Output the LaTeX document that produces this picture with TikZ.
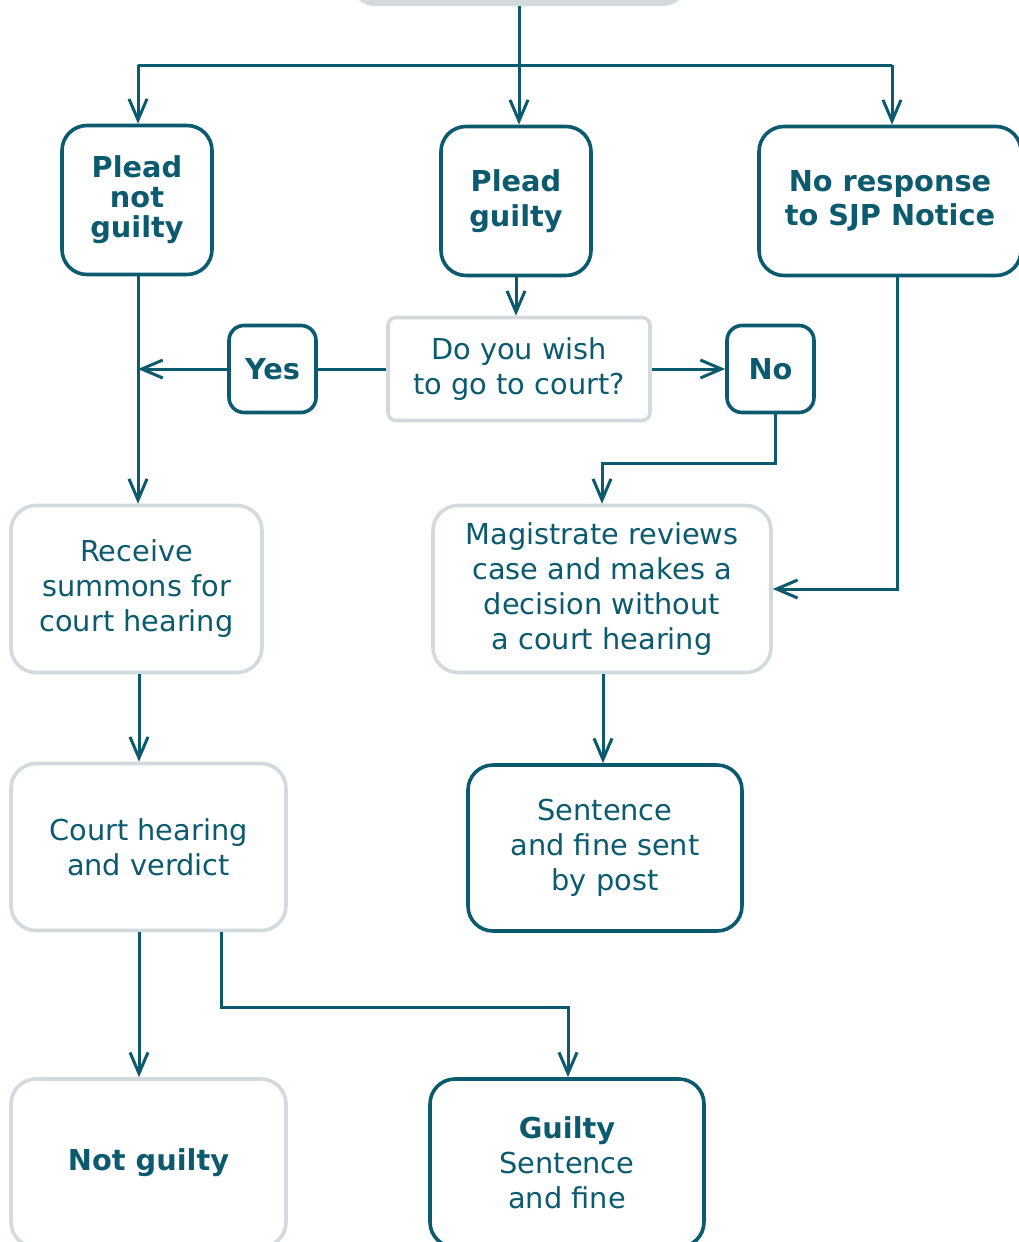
\documentclass[tikz,border=0pt]{standalone}
\usepackage{fontspec}
\setmainfont{DejaVu Sans}
\usetikzlibrary{arrows.meta,calc}
\definecolor{teal}{HTML}{0B5A6E}
\definecolor{lgray}{HTML}{D3DADE}
\tikzset{
  base/.style={align=center, text=teal, font=\fontsize{28.8}{35}\selectfont, inner sep=0pt},
  darkbox/.style={base, draw=teal, line width=3.6pt, rounded corners=25pt},
  graybox/.style={base, draw=lgray, line width=3.6pt, rounded corners=25pt},
  boldtext/.style={font=\fontsize{28.8}{35}\selectfont\bfseries},
  arr/.style={draw=teal, line width=3pt, -{Straight Barb[length=21pt,width=18pt,line width=3pt]}},
  ln/.style={draw=teal, line width=3pt},
}
\begin{document}
\begin{tikzpicture}[x=1pt,y=-1pt]
\useasboundingbox (0,0) rectangle (1018,1242);
\node[fill=lgray, rounded corners=25pt, minimum width=338pt, minimum height=90pt, inner sep=0pt] (top) at (519,-39) {};

\node[darkbox, minimum width=150pt, minimum height=149pt, font=\fontsize{28.8}{30}\selectfont\bfseries] (pnl) at (137,200) {Plead\\not\\guilty};
\node[darkbox, boldtext, minimum width=150pt, minimum height=149pt] (pg) at (516,201) {Plead\\guilty};
\node[darkbox, minimum width=262pt, minimum height=149pt, font=\fontsize{28.8}{34}\selectfont\bfseries] (nr) at (890,201) {No response\\to SJP Notice};

\node[graybox, rounded corners=8pt, minimum width=262pt, minimum height=103pt] (q) at (519,369) {Do you wish\\to go to court?};
\node[darkbox, boldtext, rounded corners=15pt, minimum width=87pt, minimum height=87pt] (yes) at (272.5,369) {Yes};
\node[darkbox, boldtext, rounded corners=15pt, minimum width=87pt, minimum height=87pt] (no) at (770.5,369) {No};

\node[graybox, minimum width=251pt, minimum height=167pt] (rs) at (136.5,589) {Receive\\summons for\\court hearing};
\node[graybox, minimum width=338pt, minimum height=167pt] (mg) at (602,589) {Magistrate reviews\\case and makes a\\decision without\\a court hearing};

\node[graybox, minimum width=275pt, minimum height=167pt] (ch) at (148.5,847) {Court hearing\\and verdict};
\node[darkbox, minimum width=274pt, minimum height=166pt] (sp) at (605,848) {Sentence\\and fine sent\\by post};

\node[graybox, boldtext, minimum width=275pt, minimum height=168pt] (ng) at (148.5,1163) {Not guilty};
\node[darkbox, minimum width=274pt, minimum height=168pt] (gu) at (567,1163) {{\bfseries Guilty}\\Sentence\\and fine};

% connectors
\coordinate (hl) at (138,65);
\coordinate (hr) at (892,65);
\draw[ln] (hl) -- (hr);
\draw[arr] (hl) -- (hl |- pnl.north);
\draw[arr] (hr) -- (hr |- nr.north);
\draw[arr] (top.south) -- (top.south |- pg.north);

\draw[arr] (pg.south) -- (pg.south |- q.north);
\draw[ln] (q.west) -- (yes.east);
\draw[arr] (yes.west) -- (yes.west -| hl);
\draw[arr] (pnl.south -| hl) -- (hl |- rs.north);
\draw[arr] (q.east) -- (no.west);
\draw[arr] ([xshift=5pt]no.south) -- ++(0,49) -| (mg.north);
\draw[arr] ([xshift=7pt]nr.south) |- (mg.east);

\draw[arr] ([xshift=2.5pt]rs.south) -- ([xshift=2.5pt]rs.south |- ch.north);
\draw[arr] ([xshift=1pt]mg.south) -- ([xshift=1pt]mg.south |- sp.north);
\draw[arr] ([xshift=-9.5pt]ch.south) -- ([xshift=-9.5pt]ng.north);
\draw[arr] ([xshift=72.5pt]ch.south) -- ++(0,75) -| ([xshift=1pt]gu.north);
\end{tikzpicture}
\end{document}
